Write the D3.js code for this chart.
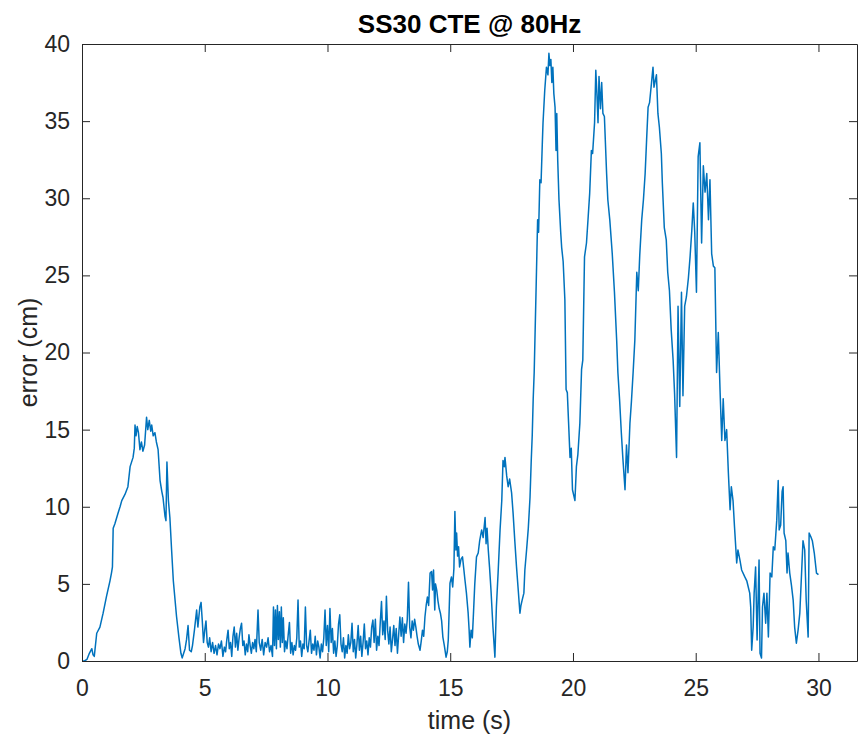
<!DOCTYPE html>
<html>
<head>
<meta charset="utf-8">
<script src="https://cdn.jsdelivr.net/npm/d3@7"></script>
<style>
  html, body { margin: 0; padding: 0; background: #fff; }
  svg { display: block; font-family: "Liberation Sans", Arial, sans-serif; }
</style>
</head>
<body>
<div id="chart"></div>
<script>
// SS30 cross-track error (time in s, error in cm)
const times = [
  0, 0.1, 0.2, 0.3, 0.4, 0.45, 0.5, 0.6, 0.73, 0.86, 1.0, 1.14, 1.2, 1.24, 1.27, 1.34, 1.47, 1.55, 1.62, 1.75,
  1.87, 1.96, 2.08, 2.13, 2.16, 2.2, 2.25, 2.3, 2.36, 2.42, 2.48, 2.55, 2.63, 2.68, 2.74, 2.8, 2.84, 2.9, 2.97, 3.03,
  3.1, 3.18, 3.25, 3.3, 3.38, 3.42, 3.46, 3.52, 3.58, 3.65, 3.72, 3.85, 3.95, 4.03, 4.08,
  4.2, 4.26, 4.32, 4.38, 4.45, 4.5, 4.58, 4.67, 4.72, 4.8, 4.85, 4.9, 4.95, 5.0, 5.05, 5.1, 5.15, 5.2, 5.26, 5.32,
  5.38, 5.44, 5.5, 5.56, 5.62, 5.68, 5.74, 5.8, 5.85, 5.9, 5.95, 6.0, 6.05, 6.1, 6.15, 6.2, 6.25, 6.3, 6.35, 6.4,
  6.45, 6.5, 6.55, 6.6, 6.65, 6.7, 6.75, 6.8, 6.85, 6.9, 6.95, 7.0, 7.05, 7.1, 7.17, 7.22, 7.28, 7.34, 7.4, 7.46,
  7.52, 7.58, 7.64, 7.7, 7.76, 7.8, 7.84, 7.88, 7.92, 7.96, 8.0, 8.04, 8.08, 8.12, 8.16, 8.2, 8.25, 8.3, 8.35, 8.4,
  8.45, 8.5, 8.55, 8.6, 8.65, 8.7, 8.75, 8.8, 8.85, 8.9, 8.95, 9.0, 9.05, 9.1, 9.15, 9.2, 9.25, 9.3, 9.35, 9.4,
  9.45, 9.5, 9.55, 9.6, 9.65, 9.7, 9.75, 9.8, 9.85, 9.9, 9.95, 10.0, 10.05, 10.1, 10.15, 10.2, 10.25, 10.3, 10.35, 10.4,
  10.45, 10.5, 10.55, 10.6, 10.65, 10.7, 10.75, 10.8, 10.85, 10.9, 10.95, 11.0, 11.05, 11.1, 11.15, 11.2, 11.25, 11.3, 11.35, 11.4,
  11.45, 11.5, 11.55, 11.6, 11.65, 11.7, 11.75, 11.8, 11.85, 11.9, 11.95, 12.0, 12.05, 12.1, 12.15, 12.2, 12.25, 12.3, 12.35, 12.4,
  12.45, 12.5, 12.55, 12.6, 12.65, 12.7, 12.75, 12.8, 12.85, 12.9, 12.95, 13.0, 13.05, 13.1, 13.15, 13.2, 13.25, 13.3, 13.35, 13.4,
  13.45, 13.5, 13.55, 13.6, 13.65, 13.7, 13.77, 13.82, 13.87, 13.92, 13.97, 14.02, 14.07, 14.12, 14.18, 14.24, 14.28, 14.32, 14.37, 14.4,
  14.45, 14.5, 14.55, 14.6, 14.65, 14.7, 14.76, 14.83, 14.88, 14.92,
  14.99, 15.05, 15.1, 15.15, 15.19, 15.23, 15.26, 15.3, 15.34, 15.38, 15.44, 15.5, 15.55, 15.6, 15.66, 15.73, 15.77, 15.8, 15.85, 15.9,
  15.95, 16.0, 16.07, 16.14, 16.2, 16.28, 16.34, 16.42, 16.46, 16.5, 16.55, 16.6, 16.66, 16.74, 16.82, 16.88, 16.95, 17.03, 17.1, 17.15,
  17.2, 17.23, 17.3, 17.36, 17.42, 17.5, 17.56, 17.63, 17.7, 17.77, 17.84, 17.88, 17.93, 18.0, 18.04, 18.11, 18.18, 18.25, 18.3, 18.34, 18.38,
  18.42, 18.46, 18.5, 18.56, 18.6, 18.65, 18.7, 18.75, 18.78, 18.85, 18.92, 18.98, 19.02, 19.06, 19.1, 19.14, 19.18, 19.22, 19.27, 19.31,
  19.34, 19.38, 19.43, 19.5, 19.54, 19.6, 19.67, 19.72, 19.77, 19.82, 19.88, 19.93, 19.98, 20.08, 20.14, 20.2, 20.28, 20.35, 20.4, 20.47,
  20.55, 20.62, 20.68, 20.75, 20.8, 20.88, 20.93, 20.98, 21.02, 21.06, 21.12, 21.17, 21.22, 21.28, 21.37, 21.42, 21.5, 21.6, 21.69, 21.78,
  21.83, 21.9, 21.97, 22.03, 22.12, 22.18, 22.24, 22.32, 22.38, 22.45, 22.52, 22.6, 22.66, 22.72, 22.8, 22.87, 22.94, 23.0, 23.06, 23.12,
  23.2, 23.26, 23.3, 23.35, 23.4, 23.46, 23.52, 23.6, 23.64, 23.72, 23.8, 23.86, 23.93, 24.0, 24.08, 24.14, 24.22, 24.28, 24.35, 24.42,
  24.48, 24.55, 24.62, 24.7, 24.77, 24.84, 24.9, 24.96, 25.03, 25.1, 25.17, 25.24, 25.31, 25.38, 25.45, 25.52, 25.58, 25.65, 25.72, 25.78,
  25.85, 25.92, 25.99, 26.06, 26.12, 26.19, 26.26, 26.33, 26.4, 26.45, 26.52, 26.58, 26.67, 26.72, 26.8, 26.87, 27.0, 27.08, 27.14, 27.2,
  27.24, 27.28, 27.34, 27.38, 27.44, 27.5, 27.58, 27.62, 27.68, 27.72, 27.78, 27.85, 27.9, 27.96, 28.03, 28.1, 28.16, 28.22, 28.3, 28.36,
  28.4, 28.46, 28.52, 28.56, 28.6, 28.67, 28.72, 28.76, 28.83, 28.9, 28.97, 29.03, 29.1, 29.17, 29.24, 29.3, 29.37, 29.44, 29.5, 29.58,
  29.62, 29.69, 29.75, 29.83, 29.92, 30.0
];

const cte = [
  0, 0, 0.1, 0.5, 0.8, 0.4, 0.3, 1.8, 2.2, 3.1, 4.2, 5.2, 5.7, 6.1, 8.6, 8.9, 9.6, 10.0, 10.4, 10.8,
  11.3, 12.6, 13.2, 13.8, 15.3, 14.6, 15.2, 14.8, 13.7, 14.2, 13.6, 14.0, 15.8, 15.0, 15.6, 14.9, 15.3, 14.6, 14.8, 14.2,
  13.7, 11.7, 11.0, 10.6, 9.4, 9.1, 12.9, 10.4, 9.3, 7.2, 5.2, 2.9, 1.5, 0.5, 0.2,
  0.8, 1.4, 2.3, 0.7, 0.6, 1.0, 2.0, 3.3, 2.2, 3.5, 3.8, 2.6, 1.2, 2.0, 2.6, 1.2, 0.9, 1.5, 0.6, 1.2,
  0.5, 1.0, 0.4, 1.1, 0.8, 1.3, 0.3, 0.9, 0.6, 1.4, 2.0, 0.8, 1.2, 0.3, 1.6, 2.2, 0.9, 1.8, 0.7, 1.5,
  2.1, 2.45, 1.0, 1.3, 0.4, 1.1, 0.6, 1.7, 1.0, 0.5, 1.2, 0.8, 1.4, 0.6, 3.3, 1.2, 0.7, 1.4, 0.4, 1.2,
  0.9, 1.5, 0.6, 1.0, 0.3, 3.5, 1.0, 3.3, 0.8, 3.6, 1.4, 3.2, 0.9, 3.5, 1.2, 2.8, 0.6, 1.3, 0.8, 1.7,
  2.5, 0.5, 1.2, 0.4, 1.0, 0.7, 1.5, 3.95, 0.9, 1.3, 0.3, 1.1, 0.8, 3.5, 1.0, 0.6, 1.3, 2.0, 0.5, 1.1,
  0.7, 1.6, 0.4, 1.3, 0.9, 0.2, 1.1, 0.6, 1.5, 3.3, 1.0, 2.3, 0.6, 3.4, 1.2, 2.1, 0.5, 1.3, 0.3, 1.0,
  2.4, 3.0, 1.1, 0.6, 1.5, 0.2, 1.0, 0.5, 1.7, 0.8, 1.2, 2.45, 0.6, 1.4, 0.2, 1.1, 2.3, 0.7, 1.6, 0.3,
  1.2, 2.4, 0.8, 1.3, 0.4, 1.5, 0.9, 2.2, 2.65, 1.2, 2.7, 0.7, 1.6, 1.0, 2.5, 3.85, 1.7, 2.6, 1.4, 4.2,
  2.0, 1.1, 2.2, 0.6, 1.4, 2.3, 1.0, 2.1, 0.5, 1.7, 2.85, 1.6, 2.8, 1.2, 2.4, 1.8, 2.7, 5.1, 2.2, 1.5,
  2.6, 2.0, 2.7, 2.2, 1.6, 1.1, 0.7, 1.3, 2.0, 1.6, 2.85, 3.6, 4.15, 3.6, 5.7, 5.8, 4.6, 5.9, 3.3, 5.0,
  4.6, 3.9, 3.4, 3.1, 2.6, 1.55, 1.0, 0.25, 0.6, 1.36,
  5.05, 5.45, 4.8, 6.0, 9.7, 7.2, 8.3, 6.8, 7.4, 6.1, 6.6, 6.75, 6.0, 5.25, 4.4, 3.1, 2.0, 0.9, 2.0, 1.5,
  3.2, 5.0, 6.75, 7.0, 7.8, 8.5, 8.0, 9.3, 7.6, 8.6, 7.2, 6.1, 4.6, 2.2, 0.25, 3.5, 5.7, 8.5, 10.4, 13.0,
  12.6, 13.2, 12.0, 11.3, 11.8, 10.9, 9.6, 7.8, 6.1, 4.6, 3.1, 3.6, 3.95, 4.4, 5.9, 7.2, 8.6, 10.6, 13.0, 14.6, 17.0,
  18.7, 21.5, 24.3, 28.6, 27.8, 31.2, 31.0, 33.5, 34.9, 37.0, 38.5, 38.0, 39.4, 38.6, 39.0, 37.5, 38.5, 36.8, 35.9, 33.1,
  35.5, 32.4, 29.9, 27.8, 26.8, 25.9, 23.4, 17.6, 17.4, 15.5, 13.2, 13.8, 11.1, 10.4, 12.6, 13.4, 15.4, 18.9, 19.5, 26.2,
  27.1, 28.8, 30.3, 33.1, 32.9, 34.9, 38.3, 36.6, 34.9, 37.9, 35.8, 37.5, 35.5, 35.3, 31.6, 29.9, 28.6, 26.4, 23.9, 20.8,
  18.7, 16.9, 14.8, 13.2, 11.1, 14.0, 12.2, 15.4, 16.8, 18.7, 20.8, 25.2, 24.0, 26.3, 28.6, 29.9, 31.6, 33.8, 35.9, 36.2,
  37.5, 38.5, 37.2, 37.6, 38.0, 35.5, 34.6, 32.9, 31.0, 28.1, 27.3, 25.2, 24.0, 21.5, 19.5, 17.3, 13.2, 23.0, 16.5, 23.9,
  17.2, 23.0, 23.6, 24.8, 26.2, 27.9, 29.7, 27.8, 23.9, 32.7, 33.6, 27.1, 32.1, 30.4, 31.6, 28.6, 31.2, 26.4, 25.6, 25.5,
  18.7, 21.3, 17.6, 14.3, 17.0, 14.3, 15.0, 12.2, 9.8, 11.3, 10.4, 8.7, 6.35, 7.2, 6.55, 5.9, 5.45, 5.2, 4.8, 4.4,
  3.5, 0.7, 2.2, 4.4, 6.1, 1.36, 6.55, 0.5, 0.2, 3.5, 4.4, 2.45, 4.4, 1.55, 5.7, 5.45, 7.4, 7.2, 9.1, 11.7,
  8.5, 8.8, 11.0, 11.3, 8.3, 7.8, 5.7, 7.0, 5.7, 4.9, 3.95, 2.2, 1.15, 2.0, 3.1, 5.25, 7.8, 7.2, 3.95, 1.55,
  8.3, 8.05, 7.8, 7.0, 5.7, 5.6
];

const xTicks = [0, 5, 10, 15, 20, 25, 30];
const yTicks = [0, 5, 10, 15, 20, 25, 30, 35, 40];

const chartTitle = 'SS30 CTE @ 80Hz';
const xLabel = 'time (s)';
const yLabel = 'error (cm)';

// Layout
const width = 858;
const height = 742;
const margin = { top: 44, right: 1, bottom: 81, left: 82 };
const innerW = width - margin.left - margin.right;
const innerH = height - margin.top - margin.bottom;
const ink = '#262626';
const lineColor = '#0072bd';
const tickLen = 8;

const svg = d3.select('#chart')
  .append('svg')
  .attr('width', width)
  .attr('height', height);

const g = svg.append('g')
  .attr('transform', `translate(${margin.left},${margin.top})`);

// Scales
const xScale = d3.scaleLinear().domain([0, 31.57]).range([0, innerW]);
const yScale = d3.scaleLinear().domain([0, 40]).range([innerH, 0]);

// Data line
const points = times.map((t, i) => ({ t: t, v: cte[i] }));

g.append('path')
  .datum(points)
  .attr('fill', 'none')
  .attr('stroke', lineColor)
  .attr('stroke-width', 1.5)
  .attr('stroke-linejoin', 'round')
  .attr('d', d3.line().x(d => xScale(d.t)).y(d => yScale(d.v)));

// Axes (MATLAB style, ticks pointing inward, full box)
const styleAxis = sel => {
  sel.select('.domain').attr('stroke', ink).attr('stroke-width', 1);
  sel.selectAll('.tick line').attr('stroke', ink).attr('stroke-width', 1);
  sel.selectAll('.tick text')
    .attr('fill', ink)
    .style('font-size', '23px');
};

g.append('g')
  .attr('class', 'x-axis')
  .attr('transform', `translate(0,${innerH})`)
  .call(d3.axisBottom(xScale).tickValues(xTicks).tickSizeInner(-tickLen).tickSizeOuter(0).tickPadding(19))
  .call(styleAxis)
  .call(a => a.selectAll('.tick text').attr('dy', '0.71em'));

g.append('g')
  .attr('class', 'x-axis-top')
  .call(d3.axisTop(xScale).tickValues(xTicks).tickSizeInner(-tickLen).tickSizeOuter(0).tickFormat(''))
  .call(styleAxis);

g.append('g')
  .attr('class', 'y-axis')
  .call(d3.axisLeft(yScale).tickValues(yTicks).tickSizeInner(-tickLen).tickSizeOuter(0).tickPadding(12))
  .call(styleAxis);

g.append('g')
  .attr('class', 'y-axis-right')
  .attr('transform', `translate(${innerW},0)`)
  .call(d3.axisRight(yScale).tickValues(yTicks).tickSizeInner(-tickLen).tickSizeOuter(0).tickFormat(''))
  .call(styleAxis);

// Title and axis labels
svg.append('text')
  .attr('x', margin.left + innerW / 2)
  .attr('y', 33)
  .attr('text-anchor', 'middle')
  .attr('fill', '#000')
  .style('font-size', '26px')
  .style('font-weight', 'bold')
  .text(chartTitle);

svg.append('text')
  .attr('x', margin.left + innerW / 2)
  .attr('y', 729)
  .attr('text-anchor', 'middle')
  .attr('fill', ink)
  .style('font-size', '25px')
  .text(xLabel);

svg.append('text')
  .attr('transform', 'rotate(-90)')
  .attr('x', -(margin.top + innerH / 2))
  .attr('y', 37)
  .attr('text-anchor', 'middle')
  .attr('fill', ink)
  .style('font-size', '25px')
  .text(yLabel);
</script>
</body>
</html>
